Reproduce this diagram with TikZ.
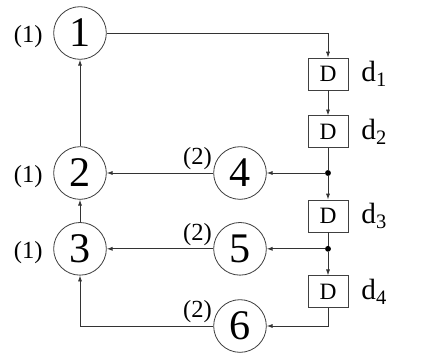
\documentclass[tikz,border=0pt]{standalone}
\usepackage{fontspec}
\setmainfont{Liberation Serif}
\usetikzlibrary{positioning,arrows.meta}
\tikzset{
  stage/.style={circle, draw=black!75, line width=0.7pt, minimum size=1.58cm,
    inner sep=0pt, font=\fontsize{36}{36}\selectfont},
  delay/.style={rectangle, draw=black!75, line width=0.7pt, minimum width=1.2cm,
    minimum height=0.96cm, inner sep=0pt, font=\fontsize{20}{20}\selectfont},
  tag/.style={inner sep=1pt, font=\fontsize{21}{21}\selectfont},
  dname/.style={inner sep=1pt, font=\fontsize{25}{25}\selectfont},
  tap/.style={circle, fill=black, inner sep=0pt, minimum size=5pt},
  wire/.style={draw=black!80, line width=0.7pt},
  feed/.style={wire, -{Latex[length=5pt,width=3.5pt]}}
}

\begin{document}
\begin{tikzpicture}[x=0.03cm, y=-0.03cm, node distance=0.75cm]
  \useasboundingbox (0,0) rectangle (422,359);

  % delay chain on the right
  \node[delay] (D1) at (328,74) {D};
  \node[delay, below=of D1] (D2) {D};
  \node[stage] (n4) at (240,173) {4};
  \node[tap] (j1) at (n4 -| D1) {};
  \node[delay, below=0.7cm of j1] (D3) {D};
  \node[tap, below=0.4cm of D3] (j2) {};
  \node[delay, below=0.7cm of j2] (D4) {D};

  \node[dname, right=0.35cm of D1] (d1) {d\textsubscript{1}};
  \node[dname, right=0.35cm of D2] (d2) {d\textsubscript{2}};
  \node[dname, right=0.35cm of D3] (d3) {d\textsubscript{3}};
  \node[dname, right=0.35cm of D4] (d4) {d\textsubscript{4}};

  % stages
  \node[stage] (n1) at (80,33) {1};
  \node[stage] (n2) at (n4 -| n1) {2};
  \node[stage] (n5) at (j2 -| n4) {5};
  \node[stage] (n3) at (n5 -| n1) {3};
  \node[stage] (n6) at (240,326) {6};

  \node[tag, left=0.28cm of n1, yshift=-1mm] (t1) {(1)};
  \node[tag, left=0.28cm of n2, yshift=-1mm] (t2) {(1)};
  \node[tag, left=0.28cm of n3, yshift=-1mm] (t3) {(1)};
  \node[tag, above left=0.5mm and 0mm of n4.west] (t4) {(2)};
  \node[tag, above left=0.5mm and 0mm of n5.west] (t5) {(2)};
  \node[tag, above left=0.5mm and 0mm of n6.west] (t6) {(2)};

  % connections
  \draw[feed] (n1) -| (D1);
  \draw[feed] (D1) -- (D2);
  \draw[wire] (D2) -- (j1);
  \draw[feed] (j1) -- (D3);
  \draw[feed] (j1) -- (n4);
  \draw[wire] (D3) -- (j2);
  \draw[feed] (j2) -- (D4);
  \draw[feed] (j2) -- (n5);
  \draw[feed] (D4) |- (n6);

  \draw[feed] (n4) -- (n2);
  \draw[feed] (n5) -- (n3);
  \draw[feed] (n6) -| (n3);
  \draw[feed] (n3) -- (n2);
  \draw[feed] (n2) -- (n1);
\end{tikzpicture}
\end{document}
